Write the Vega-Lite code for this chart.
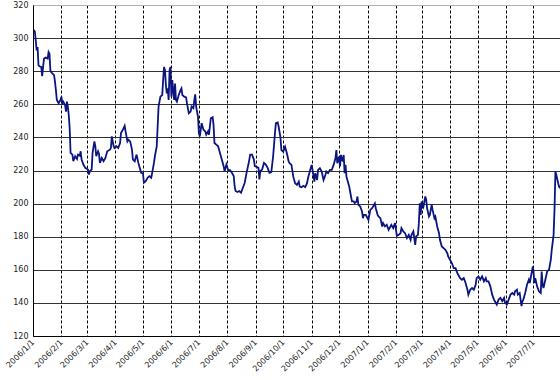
{
  "$schema": "https://vega.github.io/schema/vega-lite/v6.json",
  "width": 527,
  "height": 331,
  "autosize": {"type": "none"},
  "padding": {"left": 33, "top": 5, "right": 0, "bottom": 44},
  "background": "white",
  "config": {"view": {"stroke": null}},
  "data": {"values": [
    {"date":"2006/1/2","value":305},{"date":"2006/1/3","value":304},{"date":"2006/1/4","value":298.6},{"date":"2006/1/5","value":292.6},{"date":"2006/1/6","value":294.6},{"date":"2006/1/7","value":283.6},{"date":"2006/1/8","value":283},{"date":"2006/1/10","value":282.6},{"date":"2006/1/11","value":277},{"date":"2006/1/12","value":282.6},{"date":"2006/1/13","value":287.6},{"date":"2006/1/15","value":288.2},{"date":"2006/1/17","value":287.6},{"date":"2006/1/18","value":291.6},{"date":"2006/1/19","value":290.6},{"date":"2006/1/20","value":280.2},{"date":"2006/1/22","value":278.6},{"date":"2006/1/24","value":277.6},{"date":"2006/1/25","value":273.6},{"date":"2006/1/26","value":268.6},{"date":"2006/1/27","value":262.6},{"date":"2006/1/29","value":260.6},{"date":"2006/1/31","value":262.6},
    {"date":"2006/2/1","value":264.6},{"date":"2006/2/2","value":260.6},{"date":"2006/2/3","value":261.6},{"date":"2006/2/5","value":259.6},{"date":"2006/2/6","value":255.6},{"date":"2006/2/7","value":261.6},{"date":"2006/2/8","value":258.6},{"date":"2006/2/9","value":253.6},{"date":"2006/2/10","value":245.6},{"date":"2006/2/11","value":230.6},{"date":"2006/2/13","value":229.6},{"date":"2006/2/14","value":225.6},{"date":"2006/2/16","value":228.6},{"date":"2006/2/18","value":227},{"date":"2006/2/19","value":229.6},{"date":"2006/2/21","value":229},{"date":"2006/2/22","value":231.6},{"date":"2006/2/23","value":226.6},{"date":"2006/2/25","value":223.6},{"date":"2006/2/27","value":221.6},
    {"date":"2006/3/2","value":220.6},{"date":"2006/3/3","value":217.6},{"date":"2006/3/4","value":219.6},{"date":"2006/3/6","value":220.6},{"date":"2006/3/7","value":230.6},{"date":"2006/3/9","value":237.6},{"date":"2006/3/10","value":234.6},{"date":"2006/3/11","value":228.6},{"date":"2006/3/13","value":231.6},{"date":"2006/3/14","value":230.2},{"date":"2006/3/15","value":224.6},{"date":"2006/3/17","value":227.6},{"date":"2006/3/19","value":225.6},{"date":"2006/3/21","value":227.6},{"date":"2006/3/23","value":231.6},{"date":"2006/3/26","value":232.6},{"date":"2006/3/27","value":233.6},{"date":"2006/3/28","value":240.6},{"date":"2006/3/30","value":234.6},{"date":"2006/3/31","value":233.6},
    {"date":"2006/4/2","value":234.6},{"date":"2006/4/4","value":233.6},{"date":"2006/4/6","value":236.6},{"date":"2006/4/7","value":242.6},{"date":"2006/4/9","value":244.6},{"date":"2006/4/11","value":247},{"date":"2006/4/12","value":243.6},{"date":"2006/4/14","value":237.6},{"date":"2006/4/15","value":238.6},{"date":"2006/4/17","value":237.6},{"date":"2006/4/19","value":232.6},{"date":"2006/4/20","value":226.6},{"date":"2006/4/22","value":225.6},{"date":"2006/4/24","value":229.6},{"date":"2006/4/26","value":224.6},{"date":"2006/4/27","value":222.6},{"date":"2006/4/29","value":218.6},
    {"date":"2006/5/1","value":218.2},{"date":"2006/5/2","value":212.6},{"date":"2006/5/4","value":213.6},{"date":"2006/5/6","value":215.6},{"date":"2006/5/8","value":216.6},{"date":"2006/5/10","value":215.6},{"date":"2006/5/11","value":218.6},{"date":"2006/5/13","value":224.6},{"date":"2006/5/14","value":228.6},{"date":"2006/5/16","value":234.6},{"date":"2006/5/17","value":246.6},{"date":"2006/5/18","value":258.6},{"date":"2006/5/20","value":264.6},{"date":"2006/5/22","value":265.6},{"date":"2006/5/23","value":274.6},{"date":"2006/5/24","value":282.6},{"date":"2006/5/25","value":280.6},{"date":"2006/5/26","value":271.6},{"date":"2006/5/27","value":266.6},{"date":"2006/5/28","value":269.6},{"date":"2006/5/29","value":262.6},{"date":"2006/5/30","value":280.6},{"date":"2006/5/31","value":282.6},
    {"date":"2006/6/1","value":264.6},{"date":"2006/6/2","value":274.6},{"date":"2006/6/4","value":262.6},{"date":"2006/6/5","value":272.6},{"date":"2006/6/6","value":262.6},{"date":"2006/6/7","value":261.6},{"date":"2006/6/9","value":265.6},{"date":"2006/6/11","value":268.6},{"date":"2006/6/12","value":269.6},{"date":"2006/6/13","value":265.6},{"date":"2006/6/15","value":264.6},{"date":"2006/6/17","value":264.2},{"date":"2006/6/18","value":260.6},{"date":"2006/6/20","value":254.6},{"date":"2006/6/22","value":255.6},{"date":"2006/6/23","value":258.6},{"date":"2006/6/25","value":257.6},{"date":"2006/6/26","value":262.6},{"date":"2006/6/27","value":266},{"date":"2006/6/28","value":258.6},{"date":"2006/6/30","value":252.6},
    {"date":"2006/7/1","value":242.6},{"date":"2006/7/2","value":240.6},{"date":"2006/7/3","value":244.6},{"date":"2006/7/4","value":248.6},{"date":"2006/7/6","value":244.6},{"date":"2006/7/8","value":243.6},{"date":"2006/7/9","value":241.6},{"date":"2006/7/11","value":243.6},{"date":"2006/7/12","value":241.6},{"date":"2006/7/14","value":251.6},{"date":"2006/7/16","value":252.2},{"date":"2006/7/17","value":247.6},{"date":"2006/7/18","value":236.6},{"date":"2006/7/20","value":235.6},{"date":"2006/7/22","value":234.6},{"date":"2006/7/24","value":230.6},{"date":"2006/7/26","value":226.6},{"date":"2006/7/28","value":222.6},{"date":"2006/7/29","value":219.6},{"date":"2006/7/31","value":223.6},
    {"date":"2006/8/2","value":220.2},{"date":"2006/8/4","value":220.2},{"date":"2006/8/6","value":218.6},{"date":"2006/8/8","value":216.6},{"date":"2006/8/9","value":210.6},{"date":"2006/8/10","value":207.6},{"date":"2006/8/12","value":207},{"date":"2006/8/14","value":207.6},{"date":"2006/8/16","value":206.6},{"date":"2006/8/18","value":209.6},{"date":"2006/8/20","value":212.6},{"date":"2006/8/22","value":218.6},{"date":"2006/8/24","value":223.6},{"date":"2006/8/26","value":229.6},{"date":"2006/8/28","value":229.6},{"date":"2006/8/30","value":226.6},{"date":"2006/8/31","value":222.6},
    {"date":"2006/9/2","value":222.2},{"date":"2006/9/4","value":221.6},{"date":"2006/9/5","value":214.6},{"date":"2006/9/6","value":219.6},{"date":"2006/9/8","value":220.6},{"date":"2006/9/10","value":224.6},{"date":"2006/9/12","value":223.6},{"date":"2006/9/14","value":221.6},{"date":"2006/9/16","value":218.6},{"date":"2006/9/18","value":219},{"date":"2006/9/20","value":228.6},{"date":"2006/9/22","value":242.6},{"date":"2006/9/23","value":248.6},{"date":"2006/9/25","value":249},{"date":"2006/9/26","value":246.6},{"date":"2006/9/28","value":240},{"date":"2006/9/29","value":232.4},
    {"date":"2006/10/1","value":231.4},{"date":"2006/10/3","value":234.4},{"date":"2006/10/5","value":230.4},{"date":"2006/10/7","value":225.4},{"date":"2006/10/8","value":224.4},{"date":"2006/10/10","value":223.4},{"date":"2006/10/12","value":216.3},{"date":"2006/10/14","value":212.3},{"date":"2006/10/16","value":211.3},{"date":"2006/10/18","value":213.3},{"date":"2006/10/19","value":210.3},{"date":"2006/10/21","value":209.9},{"date":"2006/10/23","value":210.7},{"date":"2006/10/25","value":209.9},{"date":"2006/10/27","value":212.3},{"date":"2006/10/28","value":215.3},{"date":"2006/10/30","value":219.4},
    {"date":"2006/11/1","value":223.4},{"date":"2006/11/2","value":220.4},{"date":"2006/11/4","value":213.3},{"date":"2006/11/5","value":218.4},{"date":"2006/11/7","value":214.3},{"date":"2006/11/8","value":220.4},{"date":"2006/11/10","value":221.4},{"date":"2006/11/12","value":219.4},{"date":"2006/11/14","value":214.3},{"date":"2006/11/16","value":217.3},{"date":"2006/11/17","value":219.4},{"date":"2006/11/19","value":218.4},{"date":"2006/11/21","value":220.4},{"date":"2006/11/23","value":220.4},{"date":"2006/11/25","value":223.4},{"date":"2006/11/27","value":227.4},{"date":"2006/11/28","value":232.4},{"date":"2006/11/29","value":224.4},
    {"date":"2006/12/1","value":228.4},{"date":"2006/12/2","value":222.4},{"date":"2006/12/3","value":229.4},{"date":"2006/12/5","value":225.4},{"date":"2006/12/6","value":229.4},{"date":"2006/12/7","value":218.4},{"date":"2006/12/8","value":223.4},{"date":"2006/12/9","value":216.3},{"date":"2006/12/11","value":212.3},{"date":"2006/12/12","value":210.3},{"date":"2006/12/14","value":204.3},{"date":"2006/12/15","value":201.3},{"date":"2006/12/17","value":201.3},{"date":"2006/12/18","value":200.3},{"date":"2006/12/20","value":201.3},{"date":"2006/12/21","value":204.3},{"date":"2006/12/22","value":199.3},{"date":"2006/12/24","value":198.3},{"date":"2006/12/26","value":195.2},{"date":"2006/12/27","value":191.2},{"date":"2006/12/28","value":193.2},{"date":"2006/12/30","value":193.2},{"date":"2006/12/31","value":192.2},
    {"date":"2007/1/2","value":190.2},{"date":"2007/1/4","value":196.2},{"date":"2007/1/6","value":197.2},{"date":"2007/1/7","value":198.2},{"date":"2007/1/9","value":200.2},{"date":"2007/1/10","value":197.2},{"date":"2007/1/12","value":193.2},{"date":"2007/1/13","value":192.2},{"date":"2007/1/15","value":191.2},{"date":"2007/1/17","value":186.2},{"date":"2007/1/18","value":188.2},{"date":"2007/1/20","value":186.2},{"date":"2007/1/22","value":187.2},{"date":"2007/1/24","value":184.2},{"date":"2007/1/26","value":186.2},{"date":"2007/1/27","value":187.2},{"date":"2007/1/29","value":185.2},{"date":"2007/1/31","value":188.2},
    {"date":"2007/2/2","value":180.5},{"date":"2007/2/4","value":181.1},{"date":"2007/2/6","value":182.1},{"date":"2007/2/7","value":185.2},{"date":"2007/2/9","value":183.2},{"date":"2007/2/11","value":182.1},{"date":"2007/2/13","value":179.1},{"date":"2007/2/15","value":181.1},{"date":"2007/2/17","value":178.1},{"date":"2007/2/18","value":181.1},{"date":"2007/2/20","value":183.2},{"date":"2007/2/22","value":175.1},{"date":"2007/2/23","value":180.1},{"date":"2007/2/25","value":181.1},{"date":"2007/2/26","value":188.2},{"date":"2007/2/27","value":200.2},{"date":"2007/2/28","value":193.2},
    {"date":"2007/3/1","value":201.3},{"date":"2007/3/3","value":198.2},{"date":"2007/3/5","value":204.3},{"date":"2007/3/6","value":202.3},{"date":"2007/3/7","value":197.2},{"date":"2007/3/9","value":192.2},{"date":"2007/3/10","value":193.2},{"date":"2007/3/12","value":199.3},{"date":"2007/3/13","value":196.2},{"date":"2007/3/15","value":191.2},{"date":"2007/3/16","value":192.2},{"date":"2007/3/18","value":186.2},{"date":"2007/3/20","value":182.1},{"date":"2007/3/21","value":178.1},{"date":"2007/3/23","value":174.1},{"date":"2007/3/25","value":173.1},{"date":"2007/3/27","value":172.1},{"date":"2007/3/29","value":170.1},{"date":"2007/3/30","value":168.1},
    {"date":"2007/4/1","value":166.1},{"date":"2007/4/3","value":164.1},{"date":"2007/4/5","value":161},{"date":"2007/4/7","value":161},{"date":"2007/4/9","value":158},{"date":"2007/4/10","value":157},{"date":"2007/4/12","value":155},{"date":"2007/4/14","value":154},{"date":"2007/4/16","value":155},{"date":"2007/4/18","value":152},{"date":"2007/4/20","value":148},{"date":"2007/4/21","value":145},{"date":"2007/4/23","value":148},{"date":"2007/4/25","value":149},{"date":"2007/4/27","value":148},{"date":"2007/4/29","value":151},{"date":"2007/4/30","value":155},
    {"date":"2007/5/2","value":156},{"date":"2007/5/4","value":154},{"date":"2007/5/6","value":156},{"date":"2007/5/8","value":153},{"date":"2007/5/10","value":155},{"date":"2007/5/11","value":153},{"date":"2007/5/13","value":153},{"date":"2007/5/15","value":150},{"date":"2007/5/17","value":145},{"date":"2007/5/19","value":142},{"date":"2007/5/20","value":141},{"date":"2007/5/22","value":139},{"date":"2007/5/24","value":142},{"date":"2007/5/26","value":143},{"date":"2007/5/28","value":141},{"date":"2007/5/30","value":143},{"date":"2007/5/31","value":140},
    {"date":"2007/6/2","value":139},{"date":"2007/6/4","value":142},{"date":"2007/6/6","value":145},{"date":"2007/6/8","value":146},{"date":"2007/6/10","value":145},{"date":"2007/6/11","value":147},{"date":"2007/6/13","value":148},{"date":"2007/6/14","value":145},{"date":"2007/6/16","value":146},{"date":"2007/6/18","value":138},{"date":"2007/6/19","value":141},{"date":"2007/6/20","value":142},{"date":"2007/6/22","value":146},{"date":"2007/6/24","value":151},{"date":"2007/6/26","value":154},{"date":"2007/6/27","value":152},{"date":"2007/6/29","value":158},{"date":"2007/6/30","value":161},
    {"date":"2007/7/1","value":160},{"date":"2007/7/2","value":152},{"date":"2007/7/3","value":155},{"date":"2007/7/5","value":150},{"date":"2007/7/7","value":147},{"date":"2007/7/9","value":146},{"date":"2007/7/10","value":159},{"date":"2007/7/11","value":151},{"date":"2007/7/12","value":149},{"date":"2007/7/14","value":154},{"date":"2007/7/16","value":159},{"date":"2007/7/18","value":160},{"date":"2007/7/20","value":166.1},{"date":"2007/7/21","value":172.1},{"date":"2007/7/23","value":181.1},{"date":"2007/7/24","value":196.2},{"date":"2007/7/25","value":219.4},{"date":"2007/7/26","value":217.3},{"date":"2007/7/28","value":212.3},{"date":"2007/7/29","value":210.3},{"date":"2007/7/30","value":209.3}
  ]},
  "mark": {"type": "line", "color": "#0a1580", "strokeWidth": 1.8, "clip": true},
  "encoding": {
    "x": {
      "field": "date",
      "type": "temporal",
      "scale": {"domain": [{"year": 2006, "month": 1, "date": 1}, {"year": 2007, "month": 7, "date": 30}]},
      "axis": {
        "title": null,
        "format": "%Y/%-m/%-d",
        "tickCount": {"interval": "month", "step": 1},
        "labelAngle": -45,
        "labelAlign": "right",
        "labelBaseline": "middle",
        "labelFont": "DejaVu Sans",
        "labelFontSize": 8,
        "labelColor": "#222",
        "labelPadding": 5,
        "labelOverlap": false,
        "labelFlush": false,
        "ticks": false,
        "grid": true,
        "gridDash": [3, 2],
        "gridColor": "#000",
        "gridWidth": 1,
        "domainColor": "#000",
        "domainWidth": 1
      }
    },
    "y": {
      "field": "value",
      "type": "quantitative",
      "scale": {"domain": [120, 320], "nice": false, "zero": false},
      "axis": {
        "title": null,
        "values": [120, 140, 160, 180, 200, 220, 240, 260, 280, 300, 320],
        "labelFont": "DejaVu Sans",
        "labelFontSize": 8,
        "labelColor": "#222",
        "labelPadding": 5,
        "ticks": false,
        "grid": true,
        "gridColor": {"condition": {"test": "datum.value == 320", "value": "#b0b0b0"}, "value": "#333"},
        "gridWidth": 1,
        "domainColor": "#000",
        "domainWidth": 1
      }
    }
  }
}
